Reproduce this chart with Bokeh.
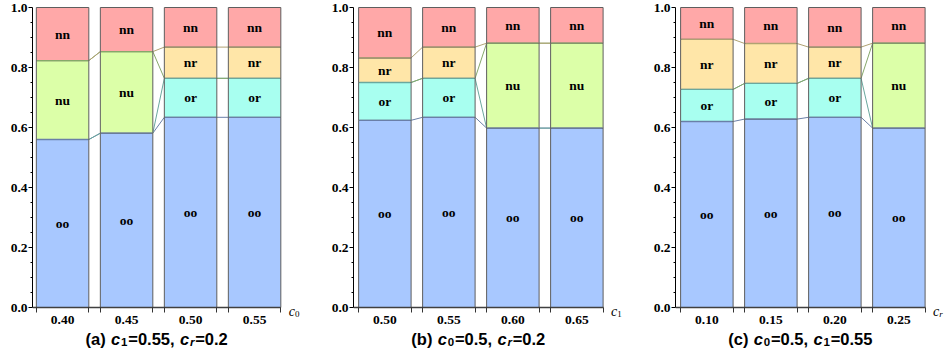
from bokeh.plotting import figure
from bokeh.layouts import row
from bokeh.models import FixedTicker, Range1d, Label, ColumnDataSource
from bokeh.core.properties import value
from bokeh.embed import file_html
from bokeh.resources import INLINE

# ---------------- data ----------------
cats = ["oo", "or", "nu", "nr", "nn"]          # stacking order, bottom -> top

a_ticks = ["0.40", "0.45", "0.50", "0.55"]
a_oo = [0.560, 0.581, 0.634, 0.634]
a_or = [0.000, 0.000, 0.130, 0.130]
a_nu = [0.263, 0.272, 0.000, 0.000]
a_nr = [0.000, 0.000, 0.104, 0.104]
a_nn = [0.177, 0.147, 0.132, 0.132]

b_ticks = ["0.50", "0.55", "0.60", "0.65"]
b_oo = [0.624, 0.634, 0.598, 0.598]
b_or = [0.126, 0.130, 0.000, 0.000]
b_nu = [0.000, 0.000, 0.283, 0.283]
b_nr = [0.082, 0.104, 0.000, 0.000]
b_nn = [0.168, 0.132, 0.119, 0.119]

c_ticks = ["0.10", "0.15", "0.20", "0.25"]
c_oo = [0.620, 0.628, 0.634, 0.598]
c_or = [0.107, 0.119, 0.130, 0.000]
c_nu = [0.000, 0.000, 0.000, 0.283]
c_nr = [0.167, 0.133, 0.104, 0.000]
c_nn = [0.106, 0.120, 0.132, 0.119]

FILL = {"oo": "#A8C8FF", "or": "#A8FFF0", "nu": "#DCFFA8", "nr": "#FFE6A8", "nn": "#FFA8A8"}
EDGE = {"oo": "#6A7FA8", "or": "#6AA89E", "nu": "#86A86A", "nr": "#B0A272", "nn": "#A88080"}

SERIF = "'Liberation Serif', 'Times New Roman', Times, serif"
SANS = "'Liberation Sans', Arial, Helvetica, sans-serif"

# Arial/Liberation Sans Bold advance widths (em)
W = {"(": .333, ")": .333, "a": .556, "b": .611, "c": .556, " ": .278, "=": .584,
     ".": .278, ",": .278, "r": .389}
for d in "0123456789":
    W[d] = .556

def text_w(s, size):
    return sum(W.get(ch, .556) for ch in s) * size

panels = [
    dict(ticks=a_ticks, vals=dict(oo=a_oo, or_=a_or, nu=a_nu, nr=a_nr, nn=a_nn), xsub="0",
         caption=[("(a) ", "bold", False), ("c", "bold italic", False), ("1", "bold", True),
                  ("=0.55, ", "bold", False), ("c", "bold italic", False), ("r", "bold italic", True),
                  ("=0.2", "bold", False)], width=321, left=32, xs=-0.47),
    dict(ticks=b_ticks, vals=dict(oo=b_oo, or_=b_or, nu=b_nu, nr=b_nr, nn=b_nn), xsub="1",
         caption=[("(b) ", "bold", False), ("c", "bold italic", False), ("0", "bold", True),
                  ("=0.5, ", "bold", False), ("c", "bold italic", False), ("r", "bold italic", True),
                  ("=0.2", "bold", False)], width=322, left=32, xs=-0.49),
    dict(ticks=c_ticks, vals=dict(oo=c_oo, or_=c_or, nu=c_nu, nr=c_nr, nn=c_nn), xsub="r",
         caption=[("(c) ", "bold", False), ("c", "bold italic", False), ("0", "bold", True),
                  ("=0.5, ", "bold", False), ("c", "bold italic", False), ("1", "bold", True),
                  ("=0.55", "bold", False)], width=301, left=32, xs=-0.49),
]

BW = 0.82
BAR_END = 3 + BW / 2
U = 64.0            # pixels per bar slot
H = 351
PXY = 300.0         # pixels per unit on y
Y0_PIX = 307        # page y of value 0
TOP = 6
Y_END = 1.0 + (Y0_PIX - PXY - TOP) / PXY
Y_START = -(H - Y0_PIX) / PXY
FS = "13.5px"

figs = []
for pn in panels:
    XS = pn["xs"]
    xe = XS + (pn["width"] - pn["left"]) / U
    p = figure(width=pn["width"], height=H, x_range=Range1d(XS, xe), y_range=Range1d(Y_START, Y_END),
               output_backend="svg", toolbar_location=None,
               min_border_left=pn["left"], min_border_right=0, min_border_top=TOP,
               min_border_bottom=0)
    p.outline_line_color = None
    p.xgrid.visible = False
    p.ygrid.visible = False
    p.background_fill_color = "white"

    n = len(pn["ticks"])
    xs = list(range(n))
    vals = [pn["vals"]["oo"], pn["vals"]["or_"], pn["vals"]["nu"], pn["vals"]["nr"], pn["vals"]["nn"]]
    cum = []
    running = [0.0] * n
    for k in range(5):
        bot = running[:]
        top = [running[i] + vals[k][i] for i in range(n)]
        cum.append((bot, top))
        running = top

    # connector lines between bars
    for k in range(4):
        bot, top = cum[k]
        p.segment(x0=[xs[i] + BW / 2 for i in range(n - 1)], x1=[xs[i + 1] - BW / 2 for i in range(n - 1)],
                  y0=[top[i] for i in range(n - 1)], y1=[top[i + 1] for i in range(n - 1)],
                  line_color=EDGE[cats[k]], line_width=1)

    # segments
    lx, ly, lt = [], [], []
    for k in range(5):
        bot, top = cum[k]
        idx = [i for i in range(n) if vals[k][i] > 0]
        src = ColumnDataSource(dict(left=[xs[i] - BW / 2 for i in idx], right=[xs[i] + BW / 2 for i in idx],
                                    bottom=[bot[i] for i in idx], top=[top[i] for i in idx]))
        p.quad(left="left", right="right", bottom="bottom", top="top", source=src,
               fill_color=FILL[cats[k]], line_color="#5e5e5e", line_width=1)
        for i in idx:
            lx.append(xs[i]); ly.append((bot[i] + top[i]) / 2); lt.append(cats[k])
    for k in range(4):
        bot, top = cum[k]
        idx = [i for i in range(n) if vals[k][i] > 0]
        p.segment(x0=[xs[i] - BW / 2 + 0.01 for i in idx], x1=[xs[i] + BW / 2 - 0.01 for i in idx],
                  y0=[top[i] for i in idx], y1=[top[i] for i in idx],
                  line_color=EDGE[cats[k]], line_width=1.3)

    p.text(x=lx, y=ly, text=lt, text_font=value(SERIF), text_font_style="bold",
           text_font_size=FS, text_align="center", text_baseline="middle", text_color="black")

    # x axis at y = 0
    xa = p.xaxis[0]
    xa.fixed_location = 0
    xa.bounds = (XS, BAR_END)
    xa.ticker = FixedTicker(ticks=xs, minor_ticks=[x + s * BW / 2 for x in xs for s in (-1, 1)])
    xa.major_label_overrides = {x: pn["ticks"][x] for x in xs}
    xa.major_tick_out = 0
    xa.major_tick_in = 0
    xa.minor_tick_out = 5
    xa.minor_tick_in = 0
    xa.minor_tick_line_color = "#333333"
    xa.axis_line_color = "#404040"
    xa.axis_line_width = 1.3
    xa.major_label_standoff = 3
    xa.major_label_text_font = SERIF
    xa.major_label_text_font_style = "bold"
    xa.major_label_text_font_size = FS
    xa.major_label_text_color = "black"

    ya = p.yaxis[0]
    ya.bounds = (0, 1)
    ya.ticker = FixedTicker(ticks=[0, 0.2, 0.4, 0.6, 0.8, 1.0],
                            minor_ticks=[round(0.05 * i, 2) for i in range(21) if i % 4 != 0])
    ya.major_label_overrides = {0: "0.0", 0.2: "0.2", 0.4: "0.4", 0.6: "0.6", 0.8: "0.8", 1.0: "1.0"}
    ya.major_tick_out = 4
    ya.major_tick_in = 0
    ya.minor_tick_out = 2
    ya.minor_tick_in = 0
    ya.axis_line_color = "black"
    ya.major_tick_line_color = "black"
    ya.minor_tick_line_color = "black"
    ya.major_label_standoff = 1
    ya.major_label_text_font = SERIF
    ya.major_label_text_font_style = "bold"
    ya.major_label_text_font_size = FS
    ya.major_label_text_color = "black"

    # axis label (c with subscript) at right end of x axis
    p.add_layout(Label(x=BAR_END, y=0, x_offset=8, y_offset=-4, text="c", text_font=SERIF,
                       text_font_style="italic", text_font_size="14px", text_baseline="alphabetic",
                       text_color="black"))
    p.add_layout(Label(x=BAR_END, y=0, x_offset=14.2, y_offset=-6, text=pn["xsub"], text_font=SERIF,
                       text_font_style="italic" if pn["xsub"] == "r" else "normal",
                       text_font_size="9px", text_baseline="alphabetic", text_color="black"))

    # caption
    MAIN, SUB = 16.5, 11.5
    GAP = 0.8
    total = sum(text_w(t, SUB if s else MAIN) + GAP for t, st, s in pn["caption"]) - GAP
    off = -total / 2
    for t, st, s in pn["caption"]:
        size = SUB if s else MAIN
        p.add_layout(Label(x=(XS + BAR_END) / 2, y=0, x_offset=off, y_offset=-34 if s else -31,
                           text=t.rstrip(), text_font=SANS, text_font_style=st,
                           text_font_size=f"{size}px", text_baseline="alphabetic", text_color="black"))
        off += text_w(t, size) + GAP
    figs.append(p)

layout = row(*figs)
open("out.html", "w").write(file_html(layout, INLINE))
